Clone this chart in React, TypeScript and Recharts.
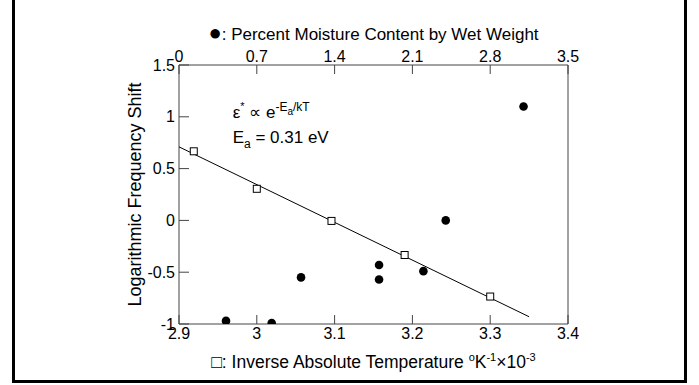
import React from "react";
import { ScatterChart, Scatter, XAxis, YAxis, ReferenceDot } from "recharts";

// squares: inverse absolute temperature (bottom axis)
const tempX = [2.919, 3.0, 3.096, 3.19, 3.3];
const tempY = [0.667, 0.305, -0.005, -0.334, -0.735];

// dots: percent moisture content (top axis)
const moistX = [0.423, 0.834, 1.098, 1.8, 1.8, 2.199, 2.4, 3.1];
const moistY = [-0.97, -0.99, -0.55, -0.43, -0.57, -0.49, 0.0, 1.1];

// fitted line through the squares
const fitX = [2.9, 3.35];
const fitY = [0.71, -0.93];

const tempTicks = [2.9, 3, 3.1, 3.2, 3.3, 3.4];
const moistTicks = [0, 0.7, 1.4, 2.1, 2.8, 3.5];
const yTicks = [-1, -0.5, 0, 0.5, 1, 1.5];

const FONT = '"Liberation Sans", Arial, Helvetica, sans-serif';
const AXIS = "#444";

const zip = (xs: number[], ys: number[]) => xs.map((x, i) => ({ x, y: ys[i] }));
const tempData = zip(tempX, tempY);
const moistData = zip(moistX, moistY);
const fitData = zip(fitX, fitY);

const tickStyle = { fill: "#000", fontSize: 16, fontFamily: FONT };

const Dot = (p: any) => <circle cx={p.cx} cy={p.cy} r={4.3} fill="#000" />;
const Square = (p: any) => (
  <rect x={p.cx - 3.5} y={p.cy - 3.5} width={7} height={7} fill="#fff" stroke="#000" strokeWidth={1} />
);
const Nothing = () => <g />;

const TopTitle = ({ viewBox }: any) => (
  <text x={viewBox.x + viewBox.width / 2} y={viewBox.y - 5} textAnchor="middle" fontSize={17} fontFamily={FONT} fill="#000">
    <tspan fontSize={22}>●</tspan>
    <tspan>: Percent Moisture Content by Wet Weight</tspan>
  </text>
);

const BottomTitle = ({ viewBox }: any) => (
  <text x={viewBox.x + viewBox.width / 2} y={viewBox.y + 44} textAnchor="middle" fontSize={17.5} fontFamily={FONT} fill="#000">
    <tspan>□: Inverse Absolute Temperature </tspan>
    <tspan fontSize={11} dy={-7}>o</tspan>
    <tspan dy={7}>K</tspan>
    <tspan fontSize={11} dy={-7}>-1</tspan>
    <tspan dy={7}>×10</tspan>
    <tspan fontSize={11} dy={-7}>-3</tspan>
  </text>
);

const YTitle = ({ viewBox }: any) => {
  const x = viewBox.x + 16;
  const y = viewBox.y + viewBox.height / 2;
  return (
    <text x={x} y={y} transform={`rotate(-90, ${x}, ${y})`} textAnchor="middle" dominantBaseline="central" fontSize={18} fontFamily={FONT} fill="#000">
      Logarithmic Frequency Shift
    </text>
  );
};

const Formula = (p: any) => (
  <text x={p.cx} y={p.cy} fontSize={17} fontFamily={FONT} fill="#000">
    <tspan>ε</tspan>
    <tspan fontSize={11} dy={-8}>*</tspan>
    <tspan dy={8}> ∝ e</tspan>
    <tspan fontSize={12} dy={-7}>-E</tspan>
    <tspan fontSize={10} dy={4}>a</tspan>
    <tspan fontSize={12} dy={-4}>/kT</tspan>
  </text>
);

const Energy = (p: any) => (
  <text x={p.cx} y={p.cy} fontSize={17} fontFamily={FONT} fill="#000">
    <tspan>E</tspan>
    <tspan fontSize={12} dy={5}>a</tspan>
    <tspan dy={-5}> = 0.31 eV</tspan>
  </text>
);

export default function App() {
  return (
    <div style={{ position: "absolute", left: 0, top: 0, width: 699, height: 385, background: "#fff" }}>
      <div
        style={{
          position: "absolute",
          left: 12,
          top: -10,
          width: 675,
          height: 393,
          border: "3px solid #000",
          boxSizing: "border-box",
        }}
      />
      <ScatterChart width={699} height={385} margin={{ top: 45, right: 121, bottom: 21, left: 119 }}>
        <XAxis
          xAxisId="temp"
          dataKey="x"
          type="number"
          orientation="bottom"
          domain={[2.9, 3.4]}
          ticks={tempTicks}
          interval={0}
          height={40}
          tickSize={-9}
          tickMargin={13}
          tick={tickStyle}
          tickLine={{ stroke: AXIS }}
          axisLine={{ stroke: AXIS }}
          allowDataOverflow
          label={<BottomTitle />}
        />
        <XAxis
          xAxisId="moist"
          dataKey="x"
          type="number"
          orientation="top"
          domain={[0, 3.5]}
          ticks={moistTicks}
          interval={0}
          height={20}
          tickSize={-9}
          tickMargin={12}
          tick={tickStyle}
          tickLine={{ stroke: AXIS }}
          axisLine={{ stroke: AXIS }}
          allowDataOverflow
          label={<TopTitle />}
        />
        <YAxis
          yAxisId="left"
          dataKey="y"
          type="number"
          domain={[-1, 1.5]}
          ticks={yTicks}
          interval={0}
          width={60}
          tickSize={-10}
          tickMargin={14}
          tick={tickStyle}
          tickLine={{ stroke: AXIS }}
          axisLine={{ stroke: AXIS }}
          allowDataOverflow
          label={<YTitle />}
        />
        <YAxis
          yAxisId="right"
          orientation="right"
          type="number"
          domain={[-1, 1.5]}
          width={10}
          tick={false}
          tickLine={false}
          axisLine={{ stroke: AXIS }}
        />
        <Scatter
          xAxisId="temp"
          yAxisId="left"
          data={fitData}
          line={{ stroke: "#000", strokeWidth: 1 }}
          shape={<Nothing />}
          isAnimationActive={false}
        />
        <Scatter xAxisId="moist" yAxisId="left" data={moistData} shape={<Dot />} isAnimationActive={false} />
        <Scatter xAxisId="temp" yAxisId="left" data={tempData} shape={<Square />} isAnimationActive={false} />
        <ReferenceDot xAxisId="temp" yAxisId="left" x={2.969} y={0.988} r={0} shape={<Formula />} />
        <ReferenceDot xAxisId="temp" yAxisId="left" x={2.969} y={0.747} r={0} shape={<Energy />} />
      </ScatterChart>
    </div>
  );
}
